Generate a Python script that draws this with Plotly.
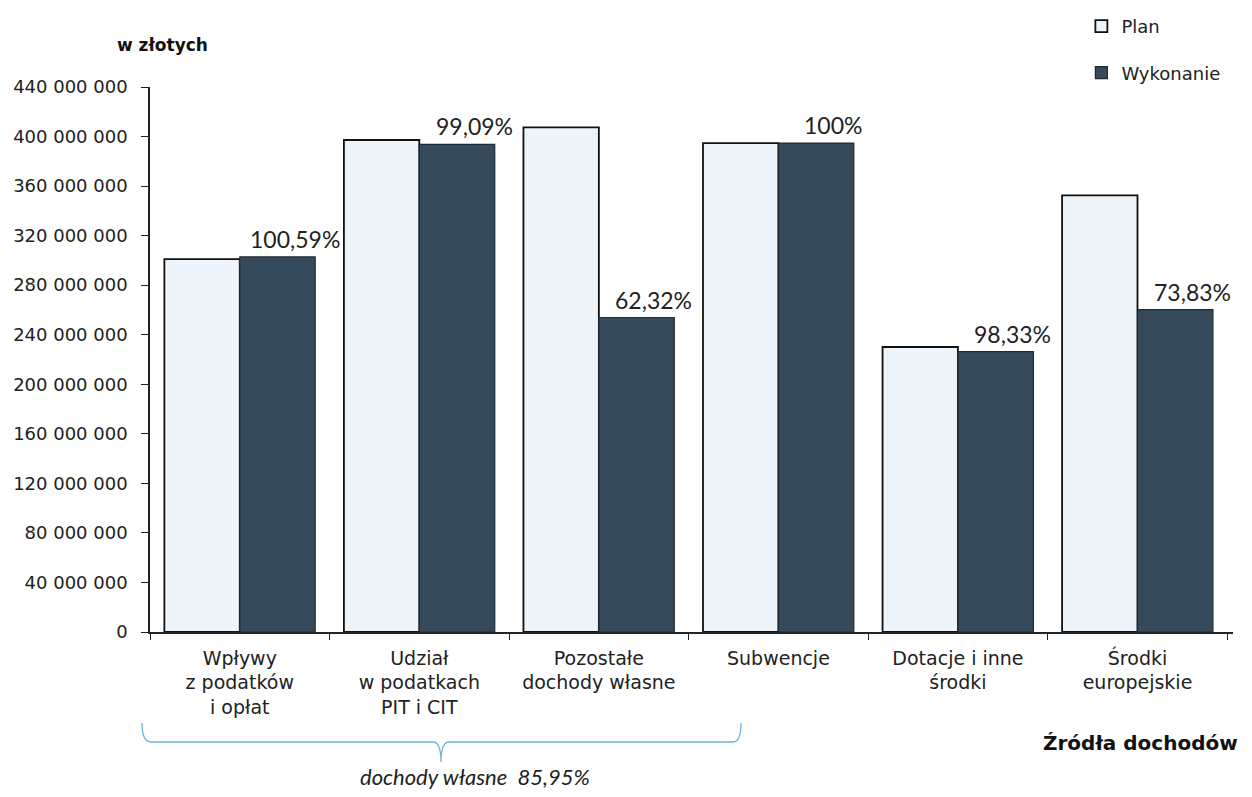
import plotly.graph_objects as go

# źródła dochodów (kategorie na osi X)
kategorie = ['Wpływy<br>z podatków<br>i opłat',
             'Udział<br>w podatkach<br>PIT i CIT',
             'Pozostałe<br>dochody własne',
             'Subwencje',
             'Dotacje i inne<br>środki',
             'Środki<br>europejskie']

# wartości w złotych
plan = [301000000, 397200000, 407400000, 394700000, 230100000, 352500000]
wykonanie = [302800000, 393600000, 253900000, 394700000, 226300000, 260200000]
procent = ['100,59%', '99,09%', '62,32%', '100%', '98,33%', '73,83%']

y_ticks = list(range(0, 440000001, 40000000))

kolor_plan = '#edf4fa'
kolor_wyk = '#354b5c'
czcionka = 'DejaVu Sans'

fig = go.Figure()
fig.add_trace(go.Bar(x=kategorie, y=plan, name='Plan', legendgroup='p',
                     marker=dict(color=kolor_plan, line=dict(color='#111111', width=1.8))))
fig.add_trace(go.Bar(x=kategorie, y=wykonanie, name='Wykonanie', legendgroup='w',
                     marker=dict(color=kolor_wyk, line=dict(color='#1e2a33', width=1.2))))

# procent wykonania nad słupkami
for k, v, t in zip(kategorie, wykonanie, procent):
    fig.add_annotation(x=k, y=v, text=t, showarrow=False, xanchor='center', yanchor='bottom',
                       xshift=55, yshift=2, font=dict(family='Lato', size=23, color='#222222'))

# klamra "dochody własne"
fig.add_shape(type='path', xref='paper', yref='paper',
              path='M -0.0074,-0.167 Q -0.0074,-0.2018 0.0010,-0.2018 L 0.2613,-0.2018 '
                   'Q 0.2687,-0.2018 0.2687,-0.2385 Q 0.2687,-0.2018 0.2761,-0.2018 '
                   'L 0.5383,-0.2018 Q 0.5457,-0.2018 0.5457,-0.167',
              line=dict(color='#6fb3dc', width=1.3))
fig.add_annotation(xref='paper', yref='paper', x=0.3001, y=-0.2660, text='<i>dochody własne  85,95%</i>',
                   showarrow=False, xanchor='center', yanchor='middle',
                   font=dict(family='Lato', size=22, color='#222222'))

fig.add_annotation(xref='paper', yref='paper', x=-0.0323, y=1.077, text='<b>w złotych</b>',
                   showarrow=False, xanchor='left', yanchor='middle',
                   font=dict(family=czcionka, size=17, color='#111111'))
fig.add_annotation(xref='paper', yref='paper', x=1.0065, y=-0.2037, text='<b>Źródła dochodów</b>',
                   showarrow=False, xanchor='right', yanchor='middle',
                   font=dict(family=czcionka, size=20, color='#111111'))

# strona ma margines 8 px, więc figura jest o 8 px mniejsza
fig.update_layout(
    width=1244, height=789,
    margin=dict(l=142, r=19, t=79, b=165, autoexpand=False),
    paper_bgcolor='white', plot_bgcolor='white',
    separators=', ',
    barmode='group', bargap=0.16, bargroupgap=0,
    font=dict(family=czcionka, size=18, color='#222222'),
    legend=dict(x=0.86, y=1.145, xanchor='left', yanchor='top',
                tracegroupgap=20, font=dict(size=18), itemwidth=30,
                bgcolor='rgba(0,0,0,0)'),
)
fig.update_yaxes(range=[0, 440000000], tickvals=y_ticks, tickformat=',d',
                 showgrid=False, zeroline=False, showline=True, linecolor='#222222', linewidth=1.5,
                 ticks='outside', ticklen=7, tickcolor='#222222', tickfont=dict(size=18),
                 ticklabelstandoff=10)
fig.update_xaxes(showline=True, linecolor='#222222', linewidth=1.5, tickson='boundaries',
                 ticks='outside', ticklen=6, tickcolor='#222222', tickfont=dict(size=19),
                 ticklabelstandoff=8)

fig.write_html('out.html')
